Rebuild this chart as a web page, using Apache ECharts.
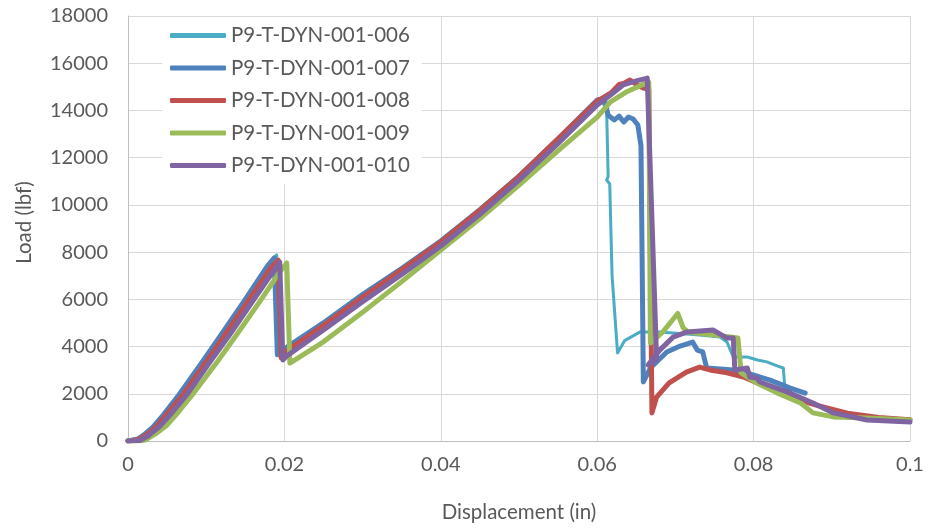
<!DOCTYPE html>
<html>
<head>
<meta charset="utf-8">
<script src="https://cdn.jsdelivr.net/npm/echarts@6/dist/echarts.min.js"></script>
<style>
  html, body { margin: 0; padding: 0; background: #fff; }
  #chart { width: 928px; height: 529px; }
</style>
</head>
<body>
<div id="chart"></div>
<script>
// displacement (in), load (lbf) pairs
const seriesNames = ['P9-T-DYN-001-006', 'P9-T-DYN-001-007', 'P9-T-DYN-001-008', 'P9-T-DYN-001-009', 'P9-T-DYN-001-010']
const colors = ['#4BACC6', '#4F81BD', '#C0504D', '#9BBB59', '#8064A2']

const test006 = [
  [0, 0], [0.0013, 90], [0.002, 250], [0.0031, 560], [0.0045, 1100], [0.0065, 1950], [0.0095, 3350],
  [0.012, 4550], [0.015, 6000], [0.018, 7500], [0.019, 7880], [0.0191, 3700], [0.0196, 3850],
  [0.025, 5050], [0.03, 6250], [0.035, 7350], [0.04, 8500], [0.045, 9830], [0.05, 11250], [0.055, 12830],
  [0.06, 14400], [0.0606, 14360], [0.0612, 14100], [0.0614, 11200], [0.0612, 11050], [0.0616, 10900],
  [0.0619, 7000], [0.0626, 3730], [0.0635, 4250], [0.0655, 4620], [0.068, 4620], [0.0731, 4490],
  [0.0757, 4400], [0.0766, 4190], [0.0774, 3560], [0.0792, 3560], [0.0805, 3430], [0.0817, 3350],
  [0.083, 3180], [0.0838, 3090], [0.084, 2240], [0.0847, 2160]
]
const test007 = [
  [0, 0], [0.0013, 90], [0.002, 250], [0.0031, 560], [0.0045, 1100], [0.0065, 1950], [0.0095, 3350],
  [0.012, 4550], [0.015, 6000], [0.0178, 7400], [0.0187, 7760], [0.0191, 3650], [0.02, 3900],
  [0.025, 5000], [0.03, 6200], [0.035, 7300], [0.04, 8470], [0.045, 9800], [0.05, 11220], [0.055, 12800],
  [0.06, 14440], [0.0609, 14500], [0.0614, 13800], [0.0622, 13600], [0.0628, 13760], [0.0634, 13510],
  [0.064, 13720], [0.0646, 13640], [0.0652, 13380], [0.0656, 12500], [0.0659, 2500], [0.0668, 3090],
  [0.0689, 3770], [0.0706, 4020], [0.0722, 4190], [0.0728, 3850], [0.0735, 3770], [0.074, 3090],
  [0.0774, 3010], [0.0795, 2840], [0.0821, 2580], [0.0847, 2240], [0.0866, 2030]
]
const test008 = [
  [0, 0], [0.0015, 80], [0.0025, 300], [0.0036, 600], [0.005, 1150], [0.007, 1950], [0.01, 3350],
  [0.0125, 4550], [0.0155, 6000], [0.0183, 7350], [0.0192, 7660], [0.0196, 3520], [0.02, 3750],
  [0.025, 4900], [0.03, 6100], [0.035, 7250], [0.04, 8430], [0.045, 9780], [0.05, 11200], [0.055, 12800],
  [0.06, 14400], [0.0607, 14530], [0.0618, 14750], [0.0628, 15100], [0.0635, 15160], [0.0642, 15290],
  [0.0651, 15080], [0.0659, 14950], [0.0666, 14900], [0.067, 1190], [0.0676, 1860], [0.0692, 2460],
  [0.0714, 2920], [0.0731, 3130], [0.0744, 3010], [0.0766, 2890], [0.0787, 2710], [0.0805, 2460],
  [0.0825, 2160], [0.085, 1820], [0.088, 1520], [0.092, 1180], [0.096, 1000], [0.1, 900]
]
const test009 = [
  [0, 0], [0.0015, 10], [0.0022, 40], [0.0035, 300], [0.005, 680], [0.0065, 1250], [0.0082, 1950],
  [0.0113, 3300], [0.014, 4550], [0.017, 5980], [0.0195, 7200], [0.0203, 7540], [0.0207, 3300],
  [0.025, 4200], [0.03, 5450], [0.035, 6750], [0.04, 8090], [0.045, 9420], [0.05, 10840], [0.055, 12300],
  [0.06, 13720], [0.0617, 14360], [0.0637, 14780], [0.0655, 15050], [0.0666, 15200], [0.0668, 4150],
  [0.0684, 4620], [0.0703, 5400], [0.071, 4790], [0.0716, 4620], [0.075, 4490], [0.078, 4360],
  [0.0784, 2880], [0.0804, 2460], [0.083, 2040], [0.086, 1610], [0.0876, 1190], [0.0902, 1020],
  [0.0945, 970], [0.1, 890]
]
const test010 = [
  [0, 0], [0.0015, 20], [0.0025, 200], [0.004, 600], [0.0055, 1150], [0.0075, 1950], [0.0105, 3350],
  [0.013, 4500], [0.016, 5950], [0.0186, 7200], [0.0194, 7580], [0.0198, 3430], [0.0203, 3600],
  [0.025, 4700], [0.03, 5900], [0.035, 7050], [0.04, 8260], [0.045, 9600], [0.05, 11050], [0.055, 12600],
  [0.06, 14230], [0.0617, 14650], [0.0633, 15080], [0.065, 15250], [0.0664, 15370], [0.0676, 3450],
  [0.0665, 3220], [0.068, 3850], [0.0697, 4400], [0.0715, 4620], [0.0748, 4700], [0.0766, 4360],
  [0.0774, 4360], [0.0776, 3010], [0.0792, 3090], [0.0795, 2710], [0.0804, 2670], [0.0808, 2500],
  [0.0825, 2290], [0.0843, 2080], [0.0876, 1610], [0.0902, 1190], [0.0945, 890], [0.1, 800]
]
const allData = [test006, test007, test008, test009, test010]
const lineWidths = [3, 5, 5, 5, 5]

const font = 'Lato, "Open Sans", sans-serif'
const textColor = '#595959'

const chart = echarts.init(document.getElementById('chart'))
const option = {
  animation: false,
  backgroundColor: '#fff',
  textStyle: { fontFamily: font },
  grid: { left: 128, right: 18, top: 16, bottom: 88 },
  legend: {
    orient: 'vertical',
    left: 162,
    top: 17,
    padding: [8, 12, 8, 8],
    backgroundColor: '#fff',
    icon: 'roundRect',
    itemWidth: 56,
    itemHeight: 5,
    itemGap: 11.5,
    textStyle: { fontFamily: font, fontSize: 20.5, color: textColor },
    data: seriesNames.map((name, i) => ({
      name,
      itemStyle: { color: colors[i] },
    })),
  },
  xAxis: {
    type: 'value',
    min: 0,
    max: 0.1,
    interval: 0.02,
    name: 'Displacement (in)',
    nameLocation: 'middle',
    nameGap: 61,
    nameTextStyle: { fontFamily: font, fontSize: 20.5, color: textColor },
    axisLine: { lineStyle: { color: '#bfbfbf', width: 1 } },
    axisTick: { show: false },
    axisLabel: { fontFamily: font, fontSize: 20, color: textColor, margin: 14 },
    splitLine: { lineStyle: { color: '#d9d9d9', width: 1 } },
  },
  yAxis: {
    type: 'value',
    min: 0,
    max: 18000,
    interval: 2000,
    name: 'Load (lbf)',
    nameLocation: 'middle',
    nameGap: 93,
    nameTextStyle: { fontFamily: font, fontSize: 20.5, color: textColor, padding: [0, 0, 0, 12] },
    axisLine: { show: true, lineStyle: { color: '#bfbfbf', width: 1 } },
    axisTick: { show: false },
    axisLabel: { fontFamily: font, fontSize: 20, color: textColor, margin: 20, formatter: v => String(v) },
    splitLine: { lineStyle: { color: '#d9d9d9', width: 1 } },
  },
  series: seriesNames.map((name, i) => ({
    name,
    type: 'line',
    data: allData[i],
    showSymbol: false,
    symbol: 'none',
    color: colors[i],
    lineStyle: { width: lineWidths[i], color: colors[i], cap: 'round', join: 'round' },
  })),
}
chart.setOption(option)
</script>
</body>
</html>
